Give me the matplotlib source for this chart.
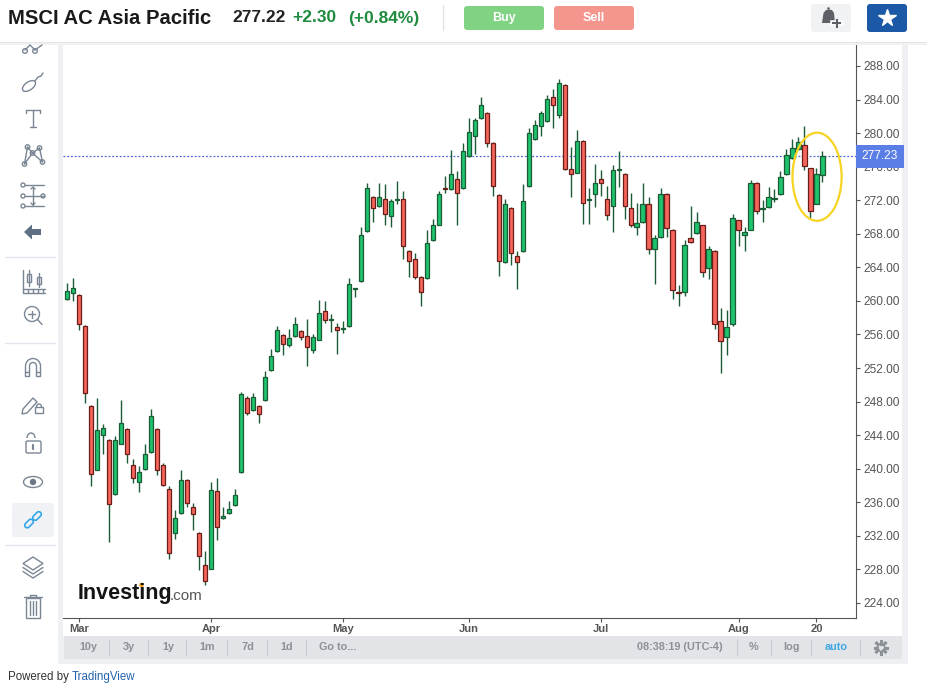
import matplotlib
matplotlib.use('Agg')
import matplotlib.pyplot as plt
from matplotlib.patches import Rectangle, FancyBboxPatch, Circle, Ellipse, Polygon, Arc
import numpy as np

plt.rcParams['font.family'] = ['Liberation Sans', 'DejaVu Sans']

##### data (daily candles, Mar - Aug 20) #####
opens = [260.2, 260.9, 260.7, 257.0, 247.5, 239.9, 244.0, 243.4, 237.0, 243.0,
         244.7, 240.5, 238.4, 240.0, 242.0, 244.7, 240.4, 237.6, 232.4, 234.7,
         238.7, 235.4, 232.4, 228.5, 228.1, 237.4, 234.1, 234.7, 235.7, 239.6,
         248.4, 247.0, 247.5, 248.2, 251.8, 254.0, 255.9, 254.7, 255.8, 256.4,
         255.8, 254.2, 255.4, 258.8, 257.7, 256.9, 256.6, 257.0, 261.4, 262.4,
         268.3, 272.4, 271.3, 272.2, 270.1, 272.0, 272.1, 266.0, 265.0, 262.8,
         262.7, 267.3, 269.1, 273.4, 273.3, 274.5, 273.4, 277.3, 279.6, 281.8,
         282.4, 278.8, 272.6, 264.6, 271.1, 265.4, 265.9, 273.7, 279.3, 280.9,
         281.4, 284.3, 282.2, 285.7, 275.7, 275.3, 279.1, 272.0, 272.7, 274.5,
         272.1, 271.3, 275.6, 275.1, 271.1, 268.8, 269.4, 271.6, 266.2, 267.6,
         272.8, 268.5, 261.1, 261.1, 267.5, 268.1, 269.0, 263.9, 266.0, 257.6,
         255.7, 257.2, 269.6, 267.9, 268.5, 274.1, 270.9, 271.2, 272.2, 272.7,
         275.1, 277.0, 278.1, 278.6, 275.8, 271.6, 275.0]
highs = [262.1, 262.7, 260.8, 257.1, 247.6, 248.4, 245.3, 243.6, 243.9, 248.2,
         244.8, 241.2, 240.3, 243.0, 247.1, 244.8, 240.7, 237.9, 235.1, 239.9,
         238.8, 235.9, 232.5, 230.2, 238.4, 238.9, 235.4, 236.1, 237.6, 249.1,
         248.7, 249.0, 247.6, 251.6, 254.3, 257.0, 256.1, 256.7, 258.1, 256.5,
         257.8, 256.1, 260.1, 260.0, 258.4, 257.4, 257.6, 262.7, 261.5, 268.8,
         274.0, 272.5, 274.1, 273.9, 272.2, 274.3, 273.1, 266.1, 265.7, 263.0,
         268.4, 269.8, 273.1, 274.9, 278.0, 275.5, 278.8, 281.8, 281.8, 284.3,
         282.5, 278.9, 272.7, 272.2, 271.2, 266.0, 273.9, 280.6, 281.6, 282.6,
         284.5, 285.3, 286.5, 285.9, 278.3, 280.4, 279.2, 273.4, 276.3, 275.6,
         273.7, 276.2, 277.9, 275.2, 272.9, 271.7, 274.1, 272.4, 267.9, 273.5,
         272.9, 268.6, 261.9, 267.3, 271.3, 270.6, 269.1, 266.5, 266.1, 259.2,
         258.9, 270.4, 269.7, 268.8, 274.4, 274.2, 272.0, 273.6, 273.3, 275.5,
         278.1, 279.3, 279.5, 280.8, 275.9, 275.9, 277.9]
lows = [260.1, 260.0, 256.5, 247.8, 237.9, 239.8, 241.7, 231.3, 236.9, 242.9,
        240.7, 238.3, 237.2, 239.9, 241.9, 239.2, 237.9, 229.3, 231.6, 234.6,
        235.4, 232.7, 227.9, 226.2, 228.0, 231.5, 234.0, 234.6, 235.6, 239.5,
        246.4, 246.9, 245.5, 248.1, 251.7, 253.9, 253.6, 254.5, 255.7, 255.3,
        252.2, 253.8, 255.3, 257.4, 256.3, 253.7, 256.2, 256.9, 260.5, 262.3,
        268.2, 269.4, 271.2, 269.1, 268.8, 271.6, 265.0, 262.8, 262.6, 259.4,
        262.6, 267.1, 269.0, 272.9, 273.2, 269.0, 273.3, 277.1, 277.5, 281.7,
        278.4, 272.5, 263.0, 264.5, 264.3, 261.4, 265.8, 273.6, 279.2, 279.6,
        281.3, 280.6, 281.8, 275.6, 272.4, 275.2, 269.2, 269.2, 271.2, 272.5,
        269.6, 268.2, 273.6, 269.8, 268.8, 267.8, 269.3, 265.6, 262.0, 267.5,
        267.6, 260.2, 259.4, 260.6, 266.9, 268.0, 262.8, 262.6, 256.6, 251.4,
        253.6, 257.0, 266.6, 265.9, 268.4, 270.4, 269.4, 271.1, 271.8, 272.6,
        275.0, 276.9, 278.0, 275.6, 269.9, 271.5, 274.2]
closes = [261.2, 261.5, 257.3, 249.0, 239.4, 244.6, 244.8, 235.8, 243.4, 245.4,
          241.8, 238.9, 239.6, 241.8, 246.3, 239.8, 238.1, 230.0, 234.1, 238.7,
          235.9, 234.6, 229.6, 226.6, 237.5, 233.0, 234.4, 235.2, 236.9, 248.9,
          246.6, 248.6, 246.5, 250.9, 253.4, 256.5, 254.9, 255.6, 257.2, 255.7,
          254.5, 255.7, 258.6, 257.7, 257.8, 256.5, 256.7, 262.0, 261.5, 267.8,
          273.5, 271.1, 272.4, 270.4, 271.9, 272.2, 266.5, 264.8, 262.9, 261.1,
          266.9, 269.1, 272.8, 273.3, 275.1, 272.9, 277.9, 280.1, 281.6, 283.4,
          278.8, 273.7, 264.7, 271.6, 265.7, 264.6, 271.9, 280.0, 281.0, 282.4,
          284.1, 283.3, 286.0, 275.7, 275.1, 279.1, 271.7, 272.2, 274.1, 274.1,
          270.3, 275.6, 275.7, 271.3, 269.0, 269.3, 271.5, 266.2, 267.5, 272.8,
          268.7, 261.3, 260.9, 266.7, 267.0, 269.4, 263.4, 266.2, 257.2, 255.2,
          256.9, 269.9, 268.5, 268.2, 274.1, 270.7, 271.1, 272.4, 272.3, 274.8,
          277.4, 278.2, 278.9, 276.1, 270.7, 275.1, 277.22]

month_labels = ['Mar', 'Apr', 'May', 'Jun', 'Jul', 'Aug', '20']
month_idx = [2, 24, 46, 67, 89, 112, 125]   # candle index of each label
last_price = 277.23
price_ticks = list(range(224, 289, 4))

W, H = 928, 690
fig = plt.figure(figsize=(W / 100, H / 100), dpi=100)

# background layer for the page chrome, in pixel coordinates
bg = fig.add_axes([0, 0, 1, 1], zorder=0)
bg.set_xlim(0, W)
bg.set_ylim(H, 0)
bg.axis('off')

# chart container
bg.add_patch(Rectangle((58, 42), 850, 622, fc='#eef0f3', ec='none'))
bg.add_patch(Rectangle((63, 42), 839, 594, fc='white', ec='none'))
bg.add_patch(Rectangle((64, 636), 838, 23, fc='#e3e4e8', ec='none'))

# chart
ax = fig.add_axes([63 / W, 1 - 618 / H, (856 - 63) / W, (618 - 42) / H], zorder=1)
o = np.array(opens)
hi = np.array(highs)
lo = np.array(lows)
c = np.array(closes)
x = np.arange(len(o))
up = c >= o
fills = np.where(up, '#1ec36d', '#f6655b')
edges = np.where(up, '#1b5b35', '#6b1d19')
ax.vlines(x, lo, hi, color='#1b5b35', lw=1.0, zorder=1)
ax.bar(x, np.maximum(np.abs(c - o), 0.12), bottom=np.minimum(o, c), width=0.72,
       color=fills, edgecolor=edges, linewidth=0.9, zorder=2)

ax.axhline(last_price, color='#4a68d8', lw=0.9, linestyle=(0, (1.5, 1.5)), zorder=0)
ax.add_patch(Ellipse((len(o) - 1.9, 274.8), 8.2, 10.5, fill=False,
                     ec='#f7d422', lw=1.6, zorder=3))

ax.set_xlim(-0.72, 131.6)
ax.set_ylim(222.21, 290.86)
for s in ['top', 'left']:
    ax.spines[s].set_visible(False)
for s in ['right', 'bottom']:
    ax.spines[s].set_color('#555555')
    ax.spines[s].set_linewidth(0.8)
ax.yaxis.tick_right()
ax.set_yticks(price_ticks)
ax.set_yticklabels([f'{v:.2f}' for v in price_ticks])
ax.tick_params(axis='y', length=3, color='#555555', labelsize=8.6,
               labelcolor='#555555', pad=2)
ax.set_xticks(month_idx)
ax.set_xticklabels(month_labels, fontweight='bold')
ax.tick_params(axis='x', length=3, color='#555555', labelsize=8,
               labelcolor='#555555', pad=1.5)

ax.annotate(f'{last_price:.2f}', xy=(1, last_price), xycoords=ax.get_yaxis_transform(),
            xytext=(4.2, 0), textcoords='offset points', ha='left', va='center',
            color='white', fontsize=8.6,
            bbox=dict(boxstyle='square,pad=0.45', fc='#5a7ee5', ec='none'),
            annotation_clip=False, zorder=5)

# foreground layer
fg = fig.add_axes([0, 0, 1, 1], zorder=2)
fg.set_xlim(0, W)
fg.set_ylim(H, 0)
fg.axis('off')
fg.patch.set_alpha(0)

# header
fg.add_patch(Rectangle((0, 0), W, 42, fc='white', ec='none'))
fg.plot([0, W], [42.5, 42.5], color='#e2e2e2', lw=1.2)
fg.plot([0, W], [44, 44], color='#f2f2f2', lw=1.5)
fg.text(8, 18, 'MSCI AC Asia Pacific', fontsize=14.6, fontweight='bold',
        color='#1a1a1a', va='center')
fg.text(232, 18, '277.22', fontsize=12.5, fontweight='bold', color='#222222', va='center')
fg.text(292, 18, '+2.30', fontsize=12.5, fontweight='bold', color='#1e8b3e', va='center')
fg.text(348, 18, '(+0.84%)', fontsize=12.5, fontweight='bold', color='#1e8b3e', va='center')
fg.plot([443, 443], [5, 30], color='#e4e4e4', lw=1)
fg.add_patch(FancyBboxPatch((464, 6), 80, 24, boxstyle='round,pad=0,rounding_size=3',
                            fc='#80d383', ec='none'))
fg.text(504, 18, 'Buy', fontsize=9, fontweight='bold', color='white', ha='center', va='center')
fg.add_patch(FancyBboxPatch((554, 6), 80, 24, boxstyle='round,pad=0,rounding_size=3',
                            fc='#f4968e', ec='none'))
fg.text(594, 18, 'Sell', fontsize=9, fontweight='bold', color='white', ha='center', va='center')
fg.add_patch(FancyBboxPatch((811, 4), 40, 28, boxstyle='round,pad=0,rounding_size=3',
                            fc='#f1f2f4', ec='none'))
fg.add_patch(Polygon([(822, 23), (823.5, 13), (826, 10), (829, 9.5), (832, 10),
                      (834, 13), (835, 23)], closed=True, fc='#5d6167', ec='none'))
fg.add_patch(Circle((828.5, 8.5), 1.3, fc='#5d6167', ec='none'))
fg.plot([833, 841], [23, 23], color='white', lw=4)
fg.plot([833.5, 840.5], [23, 23], color='#5d6167', lw=1.5)
fg.plot([837, 837], [19.5, 26.5], color='#5d6167', lw=1.5)
fg.add_patch(FancyBboxPatch((867, 4), 40, 28, boxstyle='round,pad=0,rounding_size=3',
                            fc='#1b58a5', ec='none'))
fg.plot(887, 18, marker='*', ms=13, color='white', mec='white')

# left toolbar
fg.add_patch(Rectangle((0, 44), 58, 620, fc='white', ec='none'))
ic = '#7a8694'
for sy in [257, 343, 545]:
    fg.plot([5, 55], [sy, sy], color='#e3e6ec', lw=1)


def line(xs, ys, col=ic, lw=1.0):
    fg.plot(xs, ys, color=col, lw=lw, solid_capstyle='round')


def ring(cx, cy, r, col=ic):
    fg.add_patch(Circle((cx, cy), r, fill=False, ec=col, lw=1.0))


# partial icon under the header
line([25, 30, 35], [50, 45, 50])
line([35, 42], [50, 45])
ring(25, 51, 2.3)
ring(35, 51, 2.3)
# brush
fg.add_patch(Ellipse((29, 86), 15, 8, angle=-35, fill=False, ec=ic, lw=1.0))
line([35, 38, 41, 43], [81, 77, 76, 73])
# text tool
line([26, 40], [110, 110])
line([26, 26], [110, 113])
line([40, 40], [110, 113])
line([33, 33], [110, 127])
line([30, 36], [127, 127])
# network
pts = [(27.5, 147), (39.5, 148), (32.5, 153), (24.5, 164), (42.5, 162)]
for a, b in [(0, 2), (1, 2), (2, 3), (2, 4), (0, 3), (1, 4)]:
    line([pts[a][0], pts[b][0]], [pts[a][1], pts[b][1]])
for p in pts:
    fg.add_patch(Circle(p, 2.2, fc='white', ec=ic, lw=1.0))
# fib / spacing tool
for yy in [185, 196, 206]:
    line([25, 44], [yy, yy])
    fg.add_patch(Circle((23, yy), 2.0, fc='white', ec=ic, lw=1.0))
fg.add_patch(Circle((43, 196), 2.0, fc='white', ec=ic, lw=1.0))
line([33, 33], [187, 205])
line([31, 33, 35], [189, 187, 189])
line([31, 33, 35], [203, 205, 203])
# back arrow
fg.add_patch(Polygon([(24, 232), (32, 224.5), (32, 229), (41, 229), (41, 235),
                      (32, 235), (32, 239.5)], closed=True, fc='#5e7083', ec='none'))
# candles with ruler
line([23, 23, 45], [270, 293, 293])
line([23, 45], [289, 289])
for tx in [28, 33, 38, 43]:
    line([tx, tx], [289, 293])
fg.add_patch(Rectangle((27, 274), 4, 8, fill=False, ec=ic, lw=1.0))
line([29, 29], [270, 286])
fg.add_patch(Rectangle((37, 277), 4, 7, fill=False, ec=ic, lw=1.0))
line([39, 39], [273, 287])
# zoom
ring(32, 314, 7.5)
line([37.5, 42], [319.5, 324.5])
line([28.5, 35.5], [314, 314])
line([32, 32], [310.5, 317.5])
# magnet
fg.add_patch(Arc((33, 366), 15, 15, theta1=180, theta2=360, ec=ic, lw=1.0))
fg.add_patch(Arc((33, 366), 7, 7, theta1=180, theta2=360, ec=ic, lw=1.0))
line([25.5, 25.5, 29.5, 29.5], [366, 376, 376, 366])
line([40.5, 40.5, 36.5, 36.5], [366, 376, 376, 366])
line([25.5, 29.5], [372, 372])
line([36.5, 40.5], [372, 372])
# pencil with lock
fg.add_patch(Polygon([(22, 414), (23, 409), (33, 398), (37, 402), (27, 413)],
                     closed=True, fill=False, ec=ic, lw=1.0))
fg.add_patch(Rectangle((35, 407), 8, 6, fill=False, ec=ic, lw=1.0))
fg.add_patch(Arc((39, 407), 5, 6, theta1=180, theta2=360, ec=ic, lw=1.0))
# open lock
fg.add_patch(FancyBboxPatch((26, 441), 15, 12, boxstyle='round,pad=0,rounding_size=1.5',
                            fill=False, ec=ic, lw=1.0))
fg.add_patch(Arc((31, 438), 8, 10, theta1=180, theta2=360, ec=ic, lw=1.0))
line([33.5, 33.5], [445, 449], lw=1.6)
# eye
fg.add_patch(Ellipse((33, 482), 19, 11, fill=False, ec=ic, lw=1.0))
fg.add_patch(Circle((33, 482), 3.2, fc='#6d7784', ec='none'))
# link (active)
fg.add_patch(FancyBboxPatch((12, 503), 42, 34, boxstyle='round,pad=0,rounding_size=2',
                            fc='#f0f2f5', ec='none'))
fg.add_patch(FancyBboxPatch((24, 521), 10, 5, boxstyle='round,pad=0,rounding_size=2.5',
                            fill=False, ec='#35a7e8', lw=1.2,
                            transform=matplotlib.transforms.Affine2D().rotate_deg_around(29, 523.5, -45) + fg.transData))
fg.add_patch(FancyBboxPatch((32, 513.5), 10, 5, boxstyle='round,pad=0,rounding_size=2.5',
                            fill=False, ec='#35a7e8', lw=1.2,
                            transform=matplotlib.transforms.Affine2D().rotate_deg_around(37, 516, -45) + fg.transData))
# layers
fg.add_patch(Polygon([(33, 557), (43, 563.5), (33, 570), (23, 563.5)], closed=True,
                     fill=False, ec=ic, lw=1.0))
line([23, 33, 43], [567.5, 574, 567.5])
line([23, 33, 43], [571.5, 578, 571.5])
# trash
line([24, 42], [597, 597])
line([30, 30, 36, 36], [597, 595, 595, 597])
fg.add_patch(Rectangle((26, 598), 14, 20, fill=False, ec=ic, lw=1.0))
for tx in [30, 33, 36]:
    line([tx, tx], [601, 615])

# investing.com watermark
fg.text(78, 593, 'Investing', fontsize=15.5, fontweight='bold', color='#141414',
        va='center')
fg.text(170, 595.5, '.com', fontsize=11, color='#555555', va='center')
fg.add_patch(Circle((141.5, 585), 2.3, fc='#f5a623', ec='none'))

# bottom toolbar
bar_col = '#8c9097'
for lbl, bx in [('10y', 88), ('3y', 129), ('1y', 168), ('1m', 207), ('7d', 248),
                ('1d', 287), ('Go to...', 338)]:
    fg.text(bx, 647.5, lbl, fontsize=7.8, fontweight='bold', color=bar_col,
            ha='center', va='center')
for sx in [109, 148, 186, 227, 267, 306, 737, 771, 811, 860]:
    fg.plot([sx, sx], [640, 655], color='#c9ccd2', lw=0.8)
fg.text(680, 647.5, '08:38:19 (UTC-4)', fontsize=7.8, fontweight='bold', color=bar_col,
        ha='center', va='center')
fg.text(754, 647.5, '%', fontsize=7.8, fontweight='bold', color=bar_col,
        ha='center', va='center')
fg.text(792, 647.5, 'log', fontsize=7.8, fontweight='bold', color=bar_col,
        ha='center', va='center')
fg.text(836, 647.5, 'auto', fontsize=7.8, fontweight='bold', color='#3fa8e4',
        ha='center', va='center')
ring(881, 647.5, 3.8, col=bar_col)
for a in np.arange(0, 360, 45):
    r = np.deg2rad(a)
    fg.plot([881 + 4 * np.cos(r), 881 + 6.3 * np.cos(r)],
            [647.5 + 4 * np.sin(r), 647.5 + 6.3 * np.sin(r)], color=bar_col, lw=2.2)

# footer
fg.text(8, 677, 'Powered by', fontsize=8.3, color='#333333', va='center')
fg.text(72, 677, 'TradingView', fontsize=8.3, color='#2362ab', va='center')

fig.savefig('out.png', dpi=100)
